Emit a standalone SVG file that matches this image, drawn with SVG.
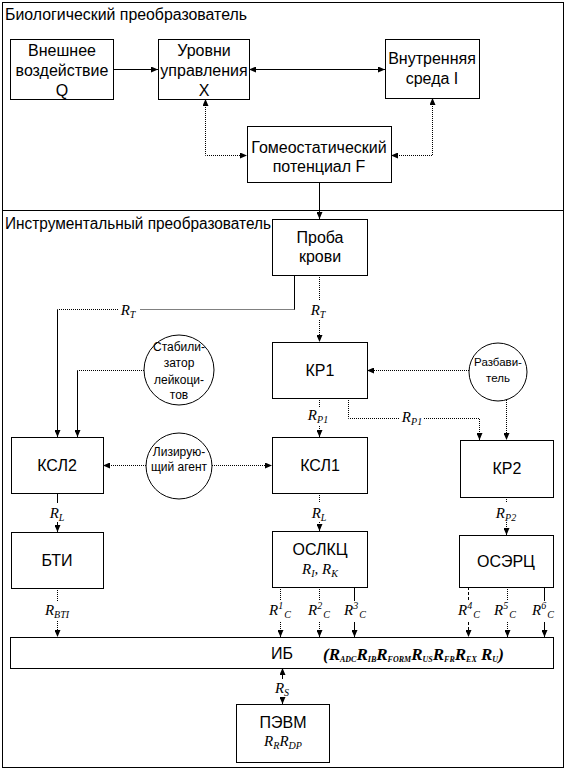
<svg xmlns="http://www.w3.org/2000/svg" width="585" height="771" viewBox="0 0 585 771">
<style>
.panel{fill:none;stroke:#000;stroke-width:1}
.box{fill:#fff;stroke:#000;stroke-width:1}
.t{font-family:"Liberation Sans",Arial,sans-serif;font-size:16px;fill:#000;text-anchor:middle}
.ct{font-family:"Liberation Sans",Arial,sans-serif;font-size:12px;fill:#000;text-anchor:middle}
.title{font-family:"Liberation Sans",Arial,sans-serif;font-size:16px;fill:#000}
.lbl{font-family:"Liberation Serif","Times New Roman",serif;font-style:italic;font-size:15px;fill:#000;text-anchor:middle}
.sub{font-size:10px}
.fml{font-family:"Liberation Serif","Times New Roman",serif;font-style:italic;font-weight:bold;font-size:17px;fill:#000}
.fs{font-size:8px}
.solid{fill:none;stroke:#000;stroke-width:1}
.dot{fill:none;stroke:#000;stroke-width:1;stroke-dasharray:1,1}
.dash{fill:none;stroke:#000;stroke-width:1;stroke-dasharray:3,2}
</style>
<defs>
<marker id="ah" markerWidth="7" markerHeight="6" refX="7" refY="3" orient="auto" markerUnits="userSpaceOnUse"><path d="M0,0 L7,3 L0,6 z" fill="#000"/></marker>
<marker id="as" markerWidth="7" markerHeight="6" refX="0" refY="3" orient="auto" markerUnits="userSpaceOnUse"><path d="M7,0 L0,3 L7,6 z" fill="#000"/></marker>
</defs>
<rect width="585" height="771" fill="#fff"/>
<g id="panel-bio">
<rect class="panel" x="2.5" y="2.5" width="561" height="208"/>
<text class="title" x="5" y="20" textLength="242" lengthAdjust="spacingAndGlyphs">Биологический преобразователь</text>
</g>
<g id="panel-instr">
<rect class="panel" x="2.5" y="210.5" width="561" height="557"/>
<text class="title" x="5" y="229" textLength="266" lengthAdjust="spacingAndGlyphs">Инструментальный преобразователь</text>
</g>
<g id="connectors">
<path class="solid" d="M113,69.5 H158" marker-end="url(#ah)"/>
<path class="solid" d="M249,69.5 H385" marker-start="url(#as)" marker-end="url(#ah)"/>
<path class="dot" d="M205.5,99 V155.5 H247" marker-start="url(#as)" marker-end="url(#ah)"/>
<path class="dot" d="M432.5,98 V155.5 H391" marker-start="url(#as)" marker-end="url(#ah)"/>
<path class="solid" d="M319.5,182 V219" marker-end="url(#ah)"/>
<path class="solid" d="M294.5,275 V309.5"/>
<path class="dot" d="M294.5,309.5 H140 M118,309.5 H57.5"/>
<path class="solid" d="M57.5,309.5 V437" marker-end="url(#ah)"/>
<text class="lbl" x="128" y="315">R<tspan class="sub" dy="3">T</tspan></text>
<path class="dot" d="M319.5,275 V300 M319.5,320 V342" marker-end="url(#ah)"/>
<text class="lbl" x="318" y="315">R<tspan class="sub" dy="3">T</tspan></text>
<path class="dot" d="M469,370.5 H367" marker-end="url(#ah)"/>
<path class="dot" d="M506.5,400 V440" marker-end="url(#ah)"/>
<path class="dot" d="M348.5,398 V418.5 H400 M424,418.5 H479.5 V440" marker-end="url(#ah)"/>
<text class="lbl" x="412" y="422">R<tspan class="sub" dy="3">P1</tspan></text>
<path class="dot" d="M319.5,398 V408 M319.5,426 V437" marker-end="url(#ah)"/>
<text class="lbl" x="318" y="420">R<tspan class="sub" dy="3">P1</tspan></text>
<path class="dot" d="M144,370.5 H77.5"/>
<path class="solid" d="M77.5,370.5 V437" marker-end="url(#ah)"/>
<path class="dot" d="M146,465.5 H103" marker-end="url(#ah)"/>
<path class="dot" d="M212,465.5 H272" marker-end="url(#ah)"/>
<path class="solid" d="M57.5,493 V503 M57.5,522 V532" marker-end="url(#ah)"/>
<text class="lbl" x="57" y="518">R<tspan class="sub" dy="3">L</tspan></text>
<path class="dot" d="M57.5,588 V601 M57.5,621 V637" marker-end="url(#ah)"/>
<text class="lbl" x="57" y="615">R<tspan class="sub" dy="3">BTI</tspan></text>
<path class="dot" d="M319.5,493 V503 M319.5,522 V531" marker-end="url(#ah)"/>
<text class="lbl" x="319" y="518">R<tspan class="sub" dy="3">L</tspan></text>
<path class="dot" d="M506.5,497 V503 M506.5,522 V535" marker-end="url(#ah)"/>
<text class="lbl" x="506" y="518">R<tspan class="sub" dy="3">P2</tspan></text>
<path class="dot" d="M280.5,587 V601 M280.5,622 V637" marker-end="url(#ah)"/>
<text class="lbl" x="280" y="615">R<tspan class="sub" dy="-6">1</tspan><tspan class="sub" dy="9" dx="1">C</tspan></text>
<path class="dot" d="M319.5,587 V601 M319.5,622 V637" marker-end="url(#ah)"/>
<text class="lbl" x="319" y="615">R<tspan class="sub" dy="-6">2</tspan><tspan class="sub" dy="9" dx="1">C</tspan></text>
<path class="solid" d="M354.5,587 V601 M354.5,622 V637" marker-end="url(#ah)"/>
<text class="lbl" x="355" y="615">R<tspan class="sub" dy="-6">3</tspan><tspan class="sub" dy="9" dx="1">C</tspan></text>
<path class="dash" d="M468.5,587 V601 M468.5,622 V637" marker-end="url(#ah)"/>
<text class="lbl" x="469" y="615">R<tspan class="sub" dy="-6">4</tspan><tspan class="sub" dy="9" dx="1">C</tspan></text>
<path class="dot" d="M507.5,587 V601 M507.5,622 V637" marker-end="url(#ah)"/>
<text class="lbl" x="505" y="615">R<tspan class="sub" dy="-6">5</tspan><tspan class="sub" dy="9" dx="1">C</tspan></text>
<path class="solid" d="M544.5,587 V601 M544.5,622 V637" marker-end="url(#ah)"/>
<text class="lbl" x="543" y="615">R<tspan class="sub" dy="-6">6</tspan><tspan class="sub" dy="9" dx="1">C</tspan></text>
<path class="solid" d="M282.5,668 V679 M282.5,697 V704" marker-start="url(#as)" marker-end="url(#ah)"/>
<text class="lbl" x="282" y="693">R<tspan class="sub" dy="3">S</tspan></text>
</g>
<g id="n-q"><rect class="box" x="10.5" y="39.5" width="103" height="60"/>
<text class="t" x="62" y="56">Внешнее</text><text class="t" x="62" y="76">воздействие</text><text class="t" x="62" y="96">Q</text></g>
<g id="n-x"><rect class="box" x="158.5" y="39.5" width="91" height="60"/>
<text class="t" x="204" y="56">Уровни</text><text class="t" x="204" y="76">управления</text><text class="t" x="204" y="96">X</text></g>
<g id="n-i"><rect class="box" x="385.5" y="39.5" width="94" height="59"/>
<text class="t" x="432" y="64">Внутренняя</text><text class="t" x="432" y="84">среда I</text></g>
<g id="n-f"><rect class="box" x="247.5" y="126.5" width="144" height="56"/>
<text class="t" x="319" y="153">Гомеостатический</text><text class="t" x="319" y="172">потенциал F</text></g>
<g id="n-proba"><rect class="box" x="272.5" y="219.5" width="95" height="56"/>
<text class="t" x="320" y="243">Проба</text><text class="t" x="320" y="262">крови</text></g>
<g id="n-kr1"><rect class="box" x="272.5" y="342.5" width="95" height="56"/>
<text class="t" x="320" y="376">КР1</text></g>
<g id="n-ksl1"><rect class="box" x="272.5" y="437.5" width="95" height="56"/>
<text class="t" x="320" y="471">КСЛ1</text></g>
<g id="n-kr2"><rect class="box" x="460.5" y="440.5" width="93" height="57"/>
<text class="t" x="507" y="474">КР2</text></g>
<g id="n-ksl2"><rect class="box" x="11.5" y="437.5" width="92" height="56"/>
<text class="t" x="57" y="471">КСЛ2</text></g>
<g id="n-bti"><rect class="box" x="11.5" y="532.5" width="92" height="56"/>
<text class="t" x="57" y="566">БТИ</text></g>
<g id="n-oslkc"><rect class="box" x="272.5" y="531.5" width="95" height="56"/>
<text class="t" x="320" y="555">ОСЛКЦ</text>
<text class="lbl" x="320" y="574">R<tspan class="sub" dy="3">I</tspan><tspan dy="-3">, R</tspan><tspan class="sub" dy="3">K</tspan></text></g>
<g id="n-oserc"><rect class="box" x="459.5" y="535.5" width="94" height="52"/>
<text class="t" x="506" y="567">ОСЭРЦ</text></g>
<g id="n-ib"><rect class="box" x="10.5" y="637.5" width="543" height="31"/>
<text class="t" x="282" y="659">ИБ</text>
<text class="fml" x="323" y="660">(R<tspan class="fs" dy="2">ADC</tspan><tspan dy="-2">R</tspan><tspan class="fs" dy="2">IB</tspan><tspan dy="-2">R</tspan><tspan class="fs" dy="2">FORM</tspan><tspan dy="-2">R</tspan><tspan class="fs" dy="2">US</tspan><tspan dy="-2">R</tspan><tspan class="fs" dy="2">FR</tspan><tspan dy="-2">R</tspan><tspan class="fs" dy="2">EX</tspan><tspan dy="-2"> R</tspan><tspan class="fs" dy="2">U</tspan><tspan dy="-2">)</tspan></text></g>
<g id="n-pevm"><rect class="box" x="236.5" y="704.5" width="93" height="58"/>
<text class="t" x="283" y="728">ПЭВМ</text>
<text class="lbl" x="283" y="746">R<tspan class="sub" dy="3">R</tspan><tspan dy="-3">R</tspan><tspan class="sub" dy="3">DP</tspan></text></g>
<g id="n-stab"><circle class="box" cx="179" cy="370" r="35"/>
<text class="ct" x="179" y="351">Стабили-</text><text class="ct" x="179" y="367">затор</text><text class="ct" x="179" y="384">лейкоци-</text><text class="ct" x="179" y="399">тов</text></g>
<g id="n-liz"><circle class="box" cx="179" cy="466" r="33"/>
<text class="ct" x="179" y="456">Лизирую-</text><text class="ct" x="179" y="471">щий агент</text></g>
<g id="n-razb"><circle class="box" cx="498" cy="372" r="29"/>
<text class="ct" x="498" y="366" style="font-size:11.5px">Разбави-</text><text class="ct" x="498" y="382" style="font-size:11.5px">тель</text></g>
</svg>
